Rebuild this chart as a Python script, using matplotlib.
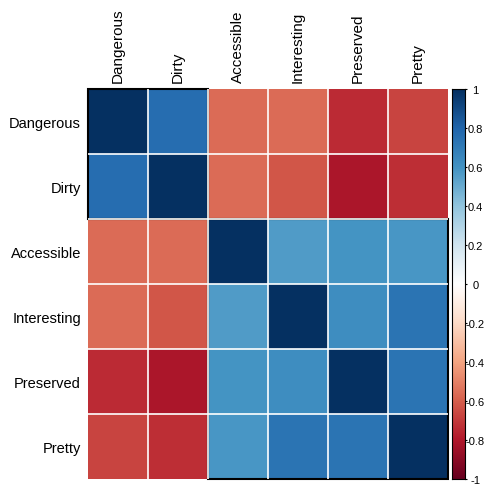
import numpy as np
import matplotlib.pyplot as plt
from matplotlib.colors import LinearSegmentedColormap
from matplotlib.patches import Rectangle

labels = ["Dangerous", "Dirty", "Accessible", "Interesting", "Preserved", "Pretty"]

# upper triangle of the correlation matrix, row by row
r_dangerous = [0.76, -0.56, -0.56, -0.75, -0.67]
r_dirty = [-0.56, -0.63, -0.82, -0.74]
r_accessible = [0.56, 0.59, 0.58]
r_interesting = [0.62, 0.73]
r_preserved = [0.73]

# hclust groups (start index, size)
clusters = [(0, 2), (2, 4)]

cb_ticks = [1, 0.8, 0.6, 0.4, 0.2, 0, -0.2, -0.4, -0.6, -0.8, -1]

n = len(labels)
corr = np.eye(n)
for i, row in enumerate([r_dangerous, r_dirty, r_accessible, r_interesting, r_preserved]):
    for k, v in enumerate(row):
        j = i + 1 + k
        corr[i, j] = v
        corr[j, i] = v

col2 = ["#67001F", "#B2182B", "#D6604D", "#F4A582", "#FDDBC7", "#FFFFFF",
        "#D1E5F0", "#92C5DE", "#4393C3", "#2166AC", "#053061"]
cmap = LinearSegmentedColormap.from_list("col2", col2, N=200)

W = H = 489
fig = plt.figure(figsize=(W / 100, H / 100), dpi=100)
plt.rcParams['font.family'] = ['Liberation Sans', 'DejaVu Sans']

ax = fig.add_axes([88 / W, (H - 480) / H, 360 / W, 390 / H])
ax.pcolormesh(np.arange(n + 1), np.arange(n + 1), corr, cmap=cmap, vmin=-1, vmax=1)
ax.set_xlim(0, n)
ax.set_ylim(n, 0)
for k in range(1, n):
    ax.axhline(k, color="white", lw=1.2)
    ax.axvline(k, color="white", lw=1.2)
for s, m in clusters:
    ax.add_patch(Rectangle((s, s), m, m, fill=False, ec="black", lw=1.5, clip_on=False))
for sp in ax.spines.values():
    sp.set_visible(False)

ax.set_xticks(np.arange(n) + 0.5)
ax.set_xticklabels(labels, rotation=90, fontsize=11)
ax.xaxis.tick_top()
ax.set_yticks(np.arange(n) + 0.5)
ax.set_yticklabels(labels, fontsize=10.5)
ax.tick_params(length=0)
ax.tick_params(axis="x", pad=5)
ax.tick_params(axis="y", pad=5)

# colour legend, labels centred beside the ticks
cax = fig.add_axes([452 / W, (H - 480) / H, 13 / W, 390 / H])
grad = np.linspace(-1, 1, 200).reshape(-1, 1)
cax.imshow(grad, cmap=cmap, aspect="auto", origin="lower", extent=[0, 1, -1, 1])
cax.set_xticks([])
cax.yaxis.tick_right()
cax.set_yticks(cb_ticks)
cax.set_yticklabels([f"{t:g}" for t in cb_ticks], fontsize=8)
cax.tick_params(axis="y", length=1.5, width=0.8, pad=6)
for lbl in cax.get_yticklabels():
    lbl.set_horizontalalignment("center")
for sp in cax.spines.values():
    sp.set_linewidth(0.8)

fig.savefig("out.png", dpi=100)
